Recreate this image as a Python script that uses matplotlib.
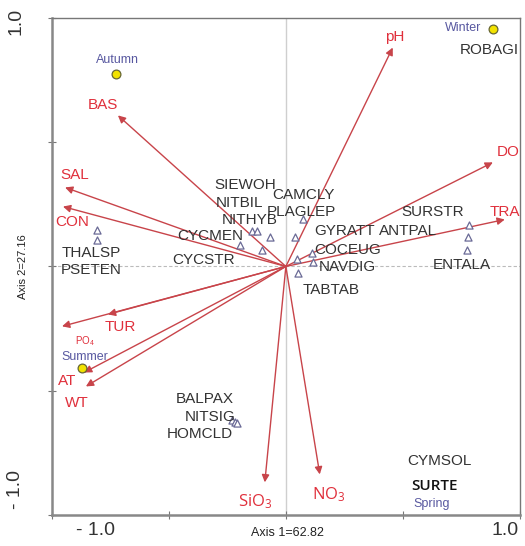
import matplotlib.pyplot as plt

plt.rcParams['font.family'] = ['Liberation Sans', 'DejaVu Sans']
plt.rcParams['mathtext.default'] = 'regular'

# environmental variables (arrow tips on axis 1 / axis 2)
env_names = ["pH", "DO", "TRA", "BAS", "SAL", "CON", "TUR", "PO$_4$", "AT", "WT", "SiO$_3$", "NO$_3$"]
env_x = [0.457, 0.885, 0.936, -0.718, -0.944, -0.953, -0.761, -0.957, -0.863, -0.855, -0.090, 0.145]
env_y = [0.881, 0.419, 0.189, 0.608, 0.318, 0.241, -0.193, -0.241, -0.427, -0.483, -0.869, -0.837]
env_lx = [0.466, 0.949, 0.936, -0.782, -0.902, -0.915, -0.709, -0.859, -0.936, -0.893, -0.132, 0.184]
env_ly = [0.922, 0.459, 0.221, 0.648, 0.370, 0.177, -0.245, -0.302, -0.463, -0.551, -0.946, -0.918]

# seasons (sample scores)
season_names = ["Autumn", "Winter", "Summer", "Spring"]
season_x = [-0.726, 0.885, -0.872, None]
season_y = [0.773, 0.954, -0.410, None]
season_lx = [-0.722, 0.756, -0.859, 0.624]
season_ly = [0.833, 0.958, -0.366, -0.958]

# species scores (triangles)
sp_x = [-0.808, -0.808, -0.145, -0.124, -0.068, -0.197, -0.103, 0.073, 0.038, 0.047,
        0.111, 0.115, 0.051, 0.782, 0.778, 0.774, -0.231, -0.218, -0.209]
sp_y = [0.145, 0.105, 0.141, 0.141, 0.117, 0.085, 0.068, 0.193, 0.117, 0.028,
        0.056, 0.016, -0.028, 0.165, 0.117, 0.068, -0.620, -0.628, -0.632]

# species labels
sp_names = ["ROBAGI", "SIEWOH", "NITBIL", "NITHYB", "CYCMEN", "CYCSTR", "CAMCLY", "PLAGLEP",
            "GYRATT", "COCEUG", "NAVDIG", "TABTAB", "SURSTR", "ANTPAL", "ENTALA", "THALSP",
            "PSETEN", "BALPAX", "NITSIG", "HOMCLD", "CYMSOL"]
sp_lx = [0.872, -0.175, -0.197, -0.154, -0.325, -0.350, 0.077, 0.068, 0.252, 0.265, 0.261,
         0.192, 0.628, 0.521, 0.752, -0.833, -0.833, -0.346, -0.325, -0.368, 0.658]
sp_ly = [0.873, 0.326, 0.254, 0.185, 0.121, 0.024, 0.286, 0.221, 0.141, 0.068, -0.004,
         -0.093, 0.221, 0.141, 0.004, 0.056, -0.016, -0.535, -0.608, -0.676, -0.785]

fig = plt.figure(figsize=(5.25, 5.46), dpi=100)
ax = fig.add_axes([0.099, 0.057, 0.891, 0.910])
ax.set_xlim(-1.0, 1.0)
ax.set_ylim(-1.0, 1.0)

# zero lines
ax.axvline(0, color="#cfcfcf", lw=1, zorder=0)
ax.axhline(0, color="#bbbbbb", lw=0.8, ls=(0, (3, 2)), zorder=0)

arrow_col = "#c8444a"
label_col = "#e0303c"
for i, name in enumerate(env_names):
    ax.annotate("", xy=(env_x[i], env_y[i]), xytext=(0, 0),
                arrowprops=dict(arrowstyle="-|>", color=arrow_col, lw=1,
                                mutation_scale=11, shrinkA=0, shrinkB=0))
    if name in ("SiO$_3$", "NO$_3$"):
        ax.text(env_lx[i], env_ly[i], name, color=label_col, fontsize=12,
                family=["Open Sans", "DejaVu Sans"], ha="center", va="center")
    elif name == "PO$_4$":
        ax.text(env_lx[i], env_ly[i], name, color=label_col, fontsize=7,
                ha="center", va="center")
    else:
        ax.text(env_lx[i], env_ly[i], name, color=label_col, fontsize=11,
                ha="center", va="center")

ax.scatter(sp_x, sp_y, marker="^", s=26, facecolors="white",
           edgecolors="#6a6a96", linewidths=0.9, zorder=3)

for i, name in enumerate(sp_names):
    ax.text(sp_lx[i], sp_ly[i], name, color="#333333", fontsize=11,
            ha="center", va="center", zorder=4)
ax.text(0.637, -0.885, "SURTE", color="#111111", fontsize=11, fontweight="semibold",
        family=["Open Sans", "DejaVu Sans"], ha="center", va="center", zorder=4)

for i, name in enumerate(season_names):
    if season_x[i] is not None:
        ax.scatter(season_x[i], season_y[i], s=40, color="#f2e200",
                   edgecolors="#666633", linewidths=0.9, zorder=5)
    ax.text(season_lx[i], season_ly[i], name, color="#5858a0", fontsize=9,
            ha="center", va="center", zorder=5)

# frame and ticks
for side in ["top", "right"]:
    ax.spines[side].set_color("#777777")
    ax.spines[side].set_linewidth(1)
for side in ["left", "bottom"]:
    ax.spines[side].set_color("#888888")
    ax.spines[side].set_linewidth(1.8)
ax.set_xticks([-1.0, -0.5, 0, 0.5, 1.0])
ax.set_yticks([-1.0, -0.5, 0, 0.5, 1.0])
ax.tick_params(direction="inout", length=6, color="#777777", labelbottom=False, labelleft=False)

fig.text(0.181, 0.029, "- 1.0", fontsize=14, color="#333333", ha="center", va="center")
fig.text(0.962, 0.029, "1.0", fontsize=14, color="#333333", ha="center", va="center")
fig.text(0.030, 0.960, "1.0", fontsize=14, color="#333333", rotation=90, ha="center", va="center")
fig.text(0.030, 0.103, "- 1.0", fontsize=14, color="#333333", rotation=90, ha="center", va="center")

fig.text(0.547, 0.024, "Axis 1=62.82", fontsize=9, color="#222222", ha="center", va="center")
fig.text(0.044, 0.511, "Axis 2=27.16", fontsize=8, color="#222222", rotation=90,
         ha="center", va="center")

plt.savefig("out.png", dpi=100)
